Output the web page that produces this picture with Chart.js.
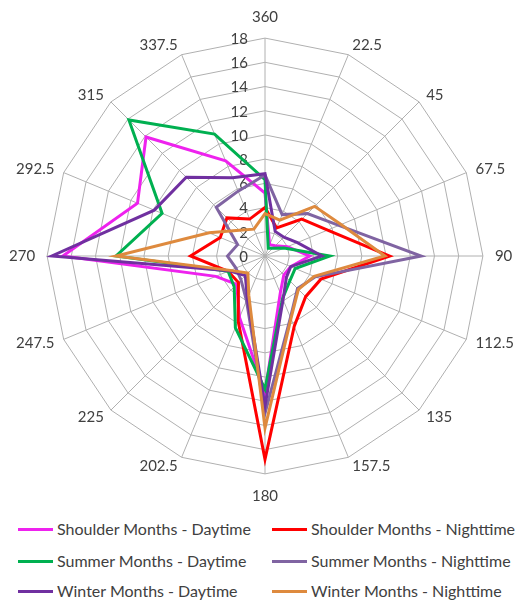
<!DOCTYPE html>
<html>
<head>
<meta charset="utf-8">
<script src="https://cdn.jsdelivr.net/npm/chart.js@4.4.0/dist/chart.umd.min.js"></script>
<style>
  body { margin: 0; background: #fff; font-family: Lato, "Liberation Sans", sans-serif; }
  #wrap { width: 522px; height: 600px; position: relative; }
  #chartBox { position: absolute; left: 0; top: 0; width: 522px; height: 508px; }
  .item { position: absolute; font-size: 16px; color: #404040; white-space: nowrap; line-height: 20px; }
  .item i { display: inline-block; width: 35px; height: 3px; vertical-align: middle; margin-right: 4px; position: relative; top: -1px; }
</style>
</head>
<body>
<div id="wrap">
  <div id="chartBox"><canvas id="windChart"></canvas></div>
  <div id="legend"></div>
</div>
<script>
const directions = ['360', '22.5', '45', '67.5', '90', '112.5', '135', '157.5', '180',
  '202.5', '225', '247.5', '270', '292.5', '315', '337.5'];
const tickValues = [0, 2, 4, 6, 8, 10, 12, 14, 16, 18];

const seriesNames = ['Shoulder Months - Daytime', 'Shoulder Months - Nighttime',
  'Summer Months - Daytime', 'Summer Months - Nighttime',
  'Winter Months - Daytime', 'Winter Months - Nighttime'];
const seriesColors = ['#EE22EE', '#FF0000', '#00B050', '#8064A2', '#7030A0', '#DE8A3E'];

const shoulderDay   = [5.2, 1.0, 1.2, 2.0, 3.7, 2.3, 2.2, 3.3, 11.3, 5.5, 3.3, 4.4, 16.7, 11.4, 13.9, 8.5];
const shoulderNight = [4.0, 2.5, 4.3, 5.6, 10.3, 5.0, 4.75, 6.3, 16.8, 5.8, 3.1, 3.3, 6.15, 4.0, 4.45, 3.3];
const summerDay     = [6.3, 0.7, 0.9, 1.7, 5.35, 2.7, 2.9, 3.8, 11.0, 6.4, 3.6, 3.3, 12.3, 9.2, 15.9, 10.9];
const summerNight   = [6.7, 3.7, 4.95, 6.6, 12.9, 4.5, 3.8, 5.5, 13.0, 4.0, 2.8, 2.6, 3.1, 2.45, 5.7, 5.8];
const winterDay     = [6.8, 2.2, 2.2, 2.9, 4.7, 2.3, 2.5, 3.9, 12.4, 3.8, 2.3, 3.2, 17.6, 9.9, 9.2, 7.0];
const winterNight   = [3.5, 3.2, 5.8, 6.8, 9.9, 4.4, 3.9, 5.6, 14.2, 3.5, 2.0, 3.1, 12.3, 5.0, 3.0, 2.4];

const allSeries = [shoulderDay, shoulderNight, summerDay, summerNight, winterDay, winterNight];

const labelFont = '15px Lato, "Liberation Sans", sans-serif';

// tick labels drawn by hand so "0" shows and they sit left of the axis like excel
const tickText = {
  id: 'tickText',
  beforeDatasetsDraw(chart) {
    const r = chart.scales.r;
    const ctx = chart.ctx;
    ctx.save();
    ctx.font = labelFont;
    ctx.fillStyle = '#404040';
    ctx.textAlign = 'right';
    ctx.textBaseline = 'middle';
    tickValues.forEach(v => {
      const d = r.getDistanceFromCenterForValue(v);
      ctx.fillText(String(v), r.xCenter - 17, r.yCenter - d + 1);
    });
    ctx.restore();
  }
};

// direction labels: excel centres them next to the outer corner
const dirText = {
  id: 'dirText',
  afterDraw(chart) {
    const r = chart.scales.r;
    const ctx = chart.ctx;
    const n = directions.length;
    ctx.save();
    ctx.font = labelFont;
    ctx.fillStyle = '#404040';
    ctx.textBaseline = 'middle';
    directions.forEach((txt, i) => {
      let extra = 10;
      if (i === 0) extra = 21;
      else if (i === n / 2) extra = 22;
      else if (i === n / 4 || i === 3 * n / 4) extra = 12;
      const p = r.getPointPosition(i, r.drawingArea + extra);
      if (i === 0 || i === n / 2) ctx.textAlign = 'center';
      else if (i < n / 2) ctx.textAlign = 'left';
      else ctx.textAlign = 'right';
      ctx.fillText(txt, p.x, p.y);
    });
    ctx.restore();
  }
};

new Chart(document.getElementById('windChart'), {
  type: 'radar',
  data: {
    labels: directions,
    datasets: allSeries.map((vals, i) => ({
      label: seriesNames[i],
      data: vals,
      borderColor: seriesColors[i],
      backgroundColor: seriesColors[i],
      borderWidth: 3,
      fill: false,
      pointRadius: 0,
      tension: 0,
      order: 5 - i
    }))
  },
  options: {
    responsive: true,
    maintainAspectRatio: false,
    animation: false,
    layout: { padding: { left: 4, right: 0, top: 5, bottom: 0 } },
    plugins: {
      legend: { display: false },
      tooltip: { enabled: false }
    },
    scales: {
      r: {
        min: 0,
        max: 18,
        ticks: { stepSize: 2, display: false },
        grid: { color: '#b0b0b0', lineWidth: 1 },
        angleLines: { color: '#b0b0b0', lineWidth: 1 },
        pointLabels: {
          // kept for sizing only, drawn by dirText
          color: 'rgba(0,0,0,0)',
          padding: 15,
          font: { size: 15, family: 'Lato, "Liberation Sans", sans-serif' }
        }
      }
    }
  },
  plugins: [tickText, dirText]
});

// legend in two columns
const legend = document.getElementById('legend');
const legendX = [18, 272];
const legendY = [519, 551, 581];
seriesNames.forEach((name, i) => {
  const el = document.createElement('div');
  el.className = 'item';
  el.style.left = legendX[i % 2] + 'px';
  el.style.top = legendY[Math.floor(i / 2)] + 'px';
  el.innerHTML = '<i style="background:' + seriesColors[i] + '"></i>' + name;
  legend.appendChild(el);
});
</script>
</body>
</html>
